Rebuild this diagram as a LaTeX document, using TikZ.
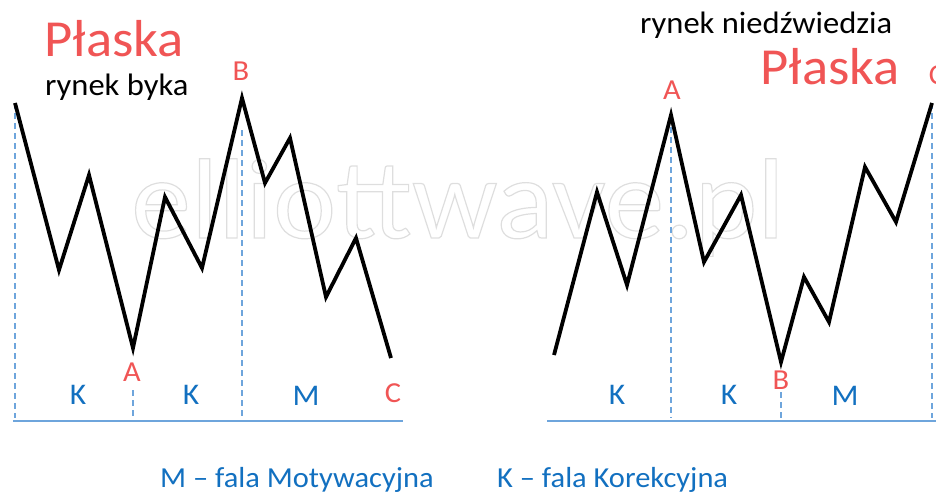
\documentclass[tikz,border=0pt]{standalone}
\usepackage{fontspec}
\setmainfont{Carlito}[FakeStretch=1.05]
\definecolor{wred}{RGB}{240,85,85}
\definecolor{wblue}{RGB}{18,112,192}
\definecolor{lblue}{RGB}{110,165,220}
\definecolor{wmark}{RGB}{222,222,222}
\begin{document}
\begin{tikzpicture}[x=1pt,y=-1pt,
  wave/.style={line width=3.8pt,line join=miter,black},
  guide/.style={lblue,line width=1.1pt,dash pattern=on 6pt off 4pt},
  base/.style={lblue,line width=1.6pt},
  ptlabel/.style={wred,font=\fontsize{29}{29}\selectfont,inner sep=0pt},
  wavelabel/.style={wblue,font=\fontsize{30}{30}\selectfont,inner sep=0pt},
  bigtitle/.style={wred,font=\fontsize{52}{52}\selectfont,inner sep=0pt,anchor=base},
  subtitle/.style={black,font=\fontsize{31}{31}\selectfont,inner sep=0pt,anchor=base west},
  legend/.style={wblue,font=\fontsize{29}{29}\selectfont,inner sep=0pt,anchor=base west}]
\useasboundingbox (0,0) rectangle (936,493);
\begin{scope}
\clip (0,0) rectangle (936,493);
% watermark
\node[inner sep=0pt,anchor=base west,text=wmark,font=\fontsize{114}{114}\selectfont] (wm) at (131,238)
  {\special{pdf:literal direct 1 Tr 1.2 w}elliottwave.pl\special{pdf:literal direct 0 Tr}};
% left wave points
\coordinate (l0) at (15,103);
\coordinate (l1) at (59,270);
\coordinate (l2) at (89,175);
\coordinate (l3) at (133,348);
\coordinate (l4) at (165,197);
\coordinate (l5) at (202,268);
\coordinate (l6) at (242,98);
\coordinate (l7) at (265,183);
\coordinate (l8) at (290,138);
\coordinate (l9) at (326,297);
\coordinate (l10) at (356,238);
\coordinate (l11) at (391,358);
% right wave points
\coordinate (r0) at (554,355);
\coordinate (r1) at (597,192);
\coordinate (r2) at (627,285);
\coordinate (r3) at (671,115);
\coordinate (r4) at (704,262);
\coordinate (r5) at (741,195);
\coordinate (r6) at (781,362);
\coordinate (r7) at (804,277);
\coordinate (r8) at (829,322);
\coordinate (r9) at (865,167);
\coordinate (r10) at (896,222);
\coordinate (r11) at (932,103);
% guide end points
\coordinate (lb0) at (15,418);
\coordinate (la) at (133,390);
\coordinate (lat) at (133,418);
\coordinate (lbt) at (242,130);
\coordinate (lbb) at (242,418);
\coordinate (rat) at (671,127);
\coordinate (rab) at (671,418);
\coordinate (rbt) at (781,392);
\coordinate (rbb) at (781,418);
\coordinate (rcb) at (932,418);
\coordinate (bl1) at (13,421);
\coordinate (bl2) at (403,421);
\coordinate (br1) at (547,421);
\coordinate (br2) at (936,421);
% guides
\draw[guide] (l0) -- (lb0);
\draw[guide] (la) -- (lat);
\draw[guide] (lbt) -- (lbb);
\draw[guide] (rat) -- (rab);
\draw[guide] (rbt) -- (rbb);
\draw[guide] (r11) -- (rcb);
\draw[base] (bl1) -- (bl2);
\draw[base] (br1) -- (br2);
% waves
\draw[wave] (l0) -- (l1) -- (l2) -- (l3) -- (l4) -- (l5) -- (l6) -- (l7) -- (l8) -- (l9) -- (l10) -- (l11);
\draw[wave] (r0) -- (r1) -- (r2) -- (r3) -- (r4) -- (r5) -- (r6) -- (r7) -- (r8) -- (r9) -- (r10) -- (r11);
% point labels
\node[ptlabel] (lA) at (132,372) {A};
\node[ptlabel] (lB) at (241,71) {B};
\node[ptlabel] (lC) at (393,393) {C};
\node[ptlabel] (rA) at (672,90) {A};
\node[ptlabel] (rB) at (781,380) {B};
\node[ptlabel] (rC) at (937,75) {C};
% wave labels
\node[wavelabel] (k1) at (78,395) {K};
\node[wavelabel] (k2) at (191,395) {K};
\node[wavelabel] (m1) at (306,396) {M};
\node[wavelabel] (k3) at (617,395) {K};
\node[wavelabel] (k4) at (729,395) {K};
\node[wavelabel] (m2) at (845,396) {M};
% titles
\node[bigtitle] (t1) at (114,56) {Płaska};
\node[subtitle] (s1) at (45,95) {rynek byka};
\node[subtitle] (s2) at (640,33) {rynek niedźwiedzia};
\node[bigtitle] (t2) at (830,84) {Płaska};
% legend
\node[legend] (lg1) at (160,487) {M – fala Motywacyjna};
\node[legend] (lg2) at (497,487) {K – fala Korekcyjna};
\end{scope}
\end{tikzpicture}
\end{document}
